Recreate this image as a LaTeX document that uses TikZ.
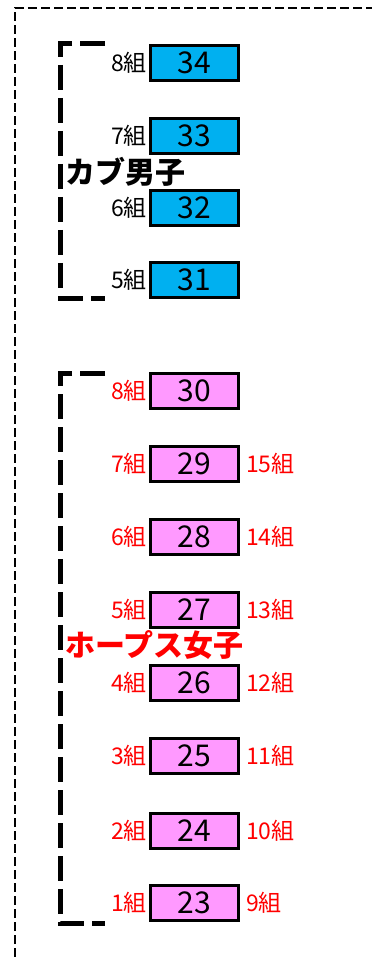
\documentclass[tikz,border=0pt]{standalone}
\usepackage{fontspec}
\setmainfont{Noto Sans CJK JP}
\usepackage{xcolor}
\usetikzlibrary{positioning}
\definecolor{cubblue}{HTML}{00B0F0}
\definecolor{hoppink}{HTML}{FF99FF}
\definecolor{kumired}{HTML}{FF0000}
\tikzset{
    numbox/.style={draw, line width=3pt, minimum width=88pt, minimum height=35pt,
        inner sep=0pt, font=\fontsize{30}{30}\selectfont},
    kumi/.style={inner sep=0pt, font=\fontsize{23}{23}\selectfont},
    grouptitle/.style={inner sep=0pt, anchor=west, font=\fontsize{30}{30}\selectfont\bfseries},
    bracket/.style={line width=5pt, dash pattern=on 25pt off 8pt},
    frameline/.style={line width=2.5pt, dash pattern=on 9pt off 4pt}
}

\begin{document}
\begin{tikzpicture}[x=1pt, y=-1pt]
        \useasboundingbox (0, 0) rectangle (372, 957);
        % Frame
        \draw [frameline] (15, 957) -- (15, 8) -- (372, 8);
        % Cub boys
        \foreach \n/\y/\grp in {34/63/8, 33/136/7, 32/208/6, 31/280/5} {
            \node [numbox, fill=cubblue] (box\n) at (194.5, \y) {\n};
            \node [kumi, left=2pt of box\n] (kumi\n) {\grp 組};
        }
        \node [grouptitle] (cub) at (65, 172) {カブ男子};
        \draw [bracket] (105, 44) -- (60, 44) -- (60, 298) -- (105, 298);
        % Hoops girls
        \foreach \n/\y/\grp in {30/391/8, 29/464/7, 28/537/6, 27/610/5,
                26/683/4, 25/756/3, 24/831/2, 23/903/1} {
            \node [numbox, fill=hoppink] (box\n) at (194.5, \y) {\n};
            \node [kumi, kumired, left=2pt of box\n] (kumi\n) {\grp 組};
        }
        \foreach \n/\grp in {29/15, 28/14, 27/13, 26/12, 25/11, 24/10, 23/9} {
            \node [kumi, kumired, right=6pt of box\n] (kumiR\n) {\grp 組};
        }
        \node [grouptitle, kumired] (hoops) at (65, 645) {ホープス女子};
        \draw [bracket] (105, 373) -- (60, 373) -- (60, 923) -- (105, 923);
    \end{tikzpicture}
\end{document}
